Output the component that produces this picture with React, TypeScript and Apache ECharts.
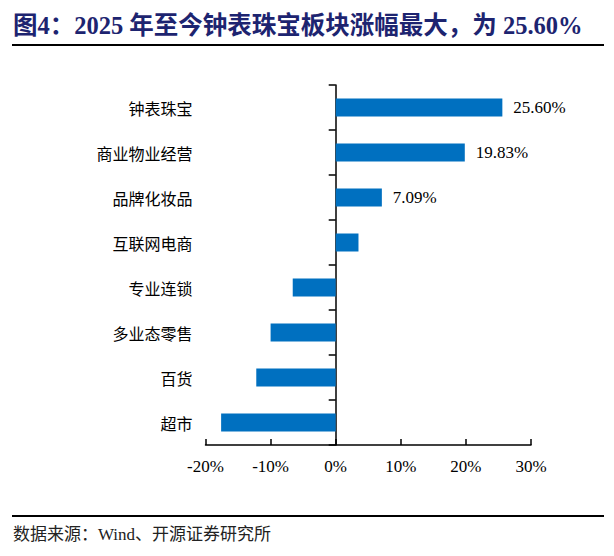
import React, { useEffect, useRef } from "react";
import * as echarts from "echarts";

const categories = ["钟表珠宝", "商业物业经营", "品牌化妆品", "互联网电商", "专业连锁", "多业态零售", "百货", "超市"];
const values = [25.6, 19.83, 7.09, 3.5, -6.6, -10.0, -12.2, -17.6];
const labelledCategories = ["钟表珠宝", "商业物业经营", "品牌化妆品"];
const titleText = "图4：2025 年至今钟表珠宝板块涨幅最大，为 25.60%";
const sourceText = "数据来源：Wind、开源证券研究所";

const SERIF = "'Liberation Serif', 'Times New Roman', 'Noto Sans CJK SC', serif";
const CJK = "'Noto Sans CJK SC', sans-serif";

export default function App() {
  const ref = useRef<HTMLDivElement>(null);
  useEffect(() => {
    document.body.style.margin = "0";
    const chart = echarts.init(ref.current!, null, { renderer: "svg" });
    chart.setOption({
      animation: false,
      backgroundColor: "#ffffff",
      grid: { left: 205.5, right: 83, top: 85, bottom: 111, containLabel: false },
      xAxis: {
        type: "value",
        min: -20,
        max: 30,
        interval: 10,
        splitLine: { show: false },
        axisLine: { show: true, onZero: false, lineStyle: { color: "#000", width: 1.5 } },
        axisTick: { show: true, inside: true, length: 6, lineStyle: { color: "#000", width: 1.5 } },
        axisLabel: { formatter: "{value}%", color: "#000", fontFamily: SERIF, fontSize: 17, margin: 13 },
      },
      yAxis: [
        {
          type: "category",
          data: categories,
          inverse: true,
          axisLine: { show: false, onZero: false },
          axisTick: { show: false },
          axisLabel: { color: "#000", fontFamily: CJK, fontSize: 16, margin: 13 },
        },
        {
          type: "category",
          data: categories,
          inverse: true,
          position: "left",
          axisLine: { show: true, onZero: true, lineStyle: { color: "#000", width: 1.5 } },
          axisTick: { show: true, length: 7, lineStyle: { color: "#000", width: 1.5 } },
          axisLabel: { show: false },
        },
      ],
      series: [
        {
          type: "bar",
          yAxisIndex: 0,
          data: values,
          barWidth: 18,
          itemStyle: { color: "#0070C0" },
          label: {
            show: true,
            position: "right",
            distance: 11,
            color: "#000",
            fontFamily: SERIF,
            fontSize: 17,
            formatter: (p: any) =>
              labelledCategories.includes(p.name) ? p.value.toFixed(2) + "%" : "",
          },
        },
      ],
      graphic: [
        {
          type: "text",
          left: 13,
          top: 13,
          style: {
            text: titleText,
            fill: "#1D2470",
            font: `bold 24.5px ${SERIF}`,
          },
        },
        {
          type: "line",
          shape: { x1: 12, y1: 45, x2: 604, y2: 45 },
          style: { stroke: "#000", lineWidth: 2 },
        },
        {
          type: "line",
          shape: { x1: 12, y1: 516, x2: 604, y2: 516 },
          style: { stroke: "#000", lineWidth: 2 },
        },
        {
          type: "text",
          left: 13,
          top: 526,
          style: {
            text: sourceText,
            fill: "#222",
            font: `17px ${SERIF}`,
          },
        },
      ],
    });
    return () => chart.dispose();
  }, []);
  return <div ref={ref} style={{ width: 614, height: 556 }} />;
}
